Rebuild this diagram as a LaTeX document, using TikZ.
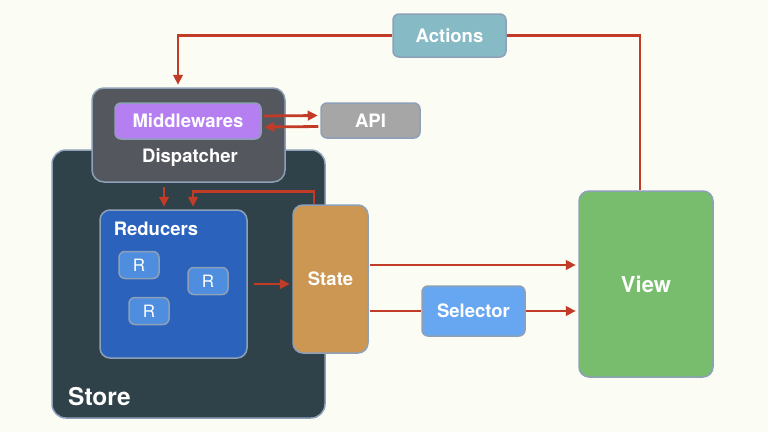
\documentclass[tikz,border=0pt]{standalone}
\usepackage{fontspec}
\setmainfont{TeX Gyre Heros}
\usetikzlibrary{arrows.meta}
\definecolor{bgcol}{HTML}{FBFCF3}
\definecolor{edgecol}{HTML}{8EA0B8}
\definecolor{flowcol}{HTML}{C23B26}
\definecolor{actcol}{HTML}{86BAC4}
\definecolor{dispcol}{HTML}{55575E}
\definecolor{midcol}{HTML}{B57FF2}
\definecolor{apicol}{HTML}{A5A6A5}
\definecolor{storecol}{HTML}{2F4149}
\definecolor{redcol}{HTML}{2A62BC}
\definecolor{rcol}{HTML}{4F8EDE}
\definecolor{statecol}{HTML}{CC9753}
\definecolor{selcol}{HTML}{67A7F1}
\definecolor{viewcol}{HTML}{78BC6E}

\begin{document}
\begin{tikzpicture}[
		x=1pt, y=-1pt,
		>={Triangle[length=10pt,width=9.5pt]},
		box/.style={draw=edgecol, line width=1.5pt, rounded corners=6pt, text=white,
			font=\bfseries\fontsize{18.5}{20}\selectfont, inner sep=0pt},
		rbox/.style={box, fill=rcol, minimum width=40pt, minimum height=27pt,
			font=\fontsize{17}{19}\selectfont},
		lbl/.style={text=white, font=\bfseries\fontsize{18.5}{20}\selectfont, inner sep=0pt},
		line/.style={draw=flowcol, line width=2.8pt},
		flow/.style={line, ->, shorten >=2.5pt}
	]

	\fill[bgcol] (0,0) rectangle (768,432);

	% store and dispatcher
	\node[box, fill=storecol, rounded corners=14pt, minimum width=273pt, minimum height=268pt] (store) at (188.5,284) {};
	\node[lbl, anchor=west, font=\bfseries\fontsize{24.5}{26}\selectfont] (storelbl) at (68,397) {Store};
	\node[box, fill=dispcol, rounded corners=12pt, minimum width=193pt, minimum height=94pt] (dispatcher) at (188.5,135) {};
	\node[box, fill=midcol, minimum width=146pt, minimum height=36pt] (middle) at (188,121) {Middlewares};
	\node[lbl] (displbl) at (190,158) {Dispatcher};
	\node[box, fill=apicol, minimum width=99pt, minimum height=35pt] (api) at (370.5,120.5) {API};
	\node[box, fill=actcol, minimum width=113pt, minimum height=43pt] (actions) at (449.5,35.5) {Actions};

	% reducers
	\node[box, fill=redcol, rounded corners=10pt, minimum width=147pt, minimum height=148pt] (reducers) at (173.5,284) {};
	\node[lbl] (redlbl) at (156,229) {Reducers};
	\node[rbox] (r1) at (139,265) {R};
	\node[rbox] (r2) at (208,281) {R};
	\node[rbox] (r3) at (149,311) {R};

	\node[box, fill=statecol, rounded corners=10pt, minimum width=75pt, minimum height=148pt] (state) at (330.5,279) {State};
	\node[box, fill=selcol, minimum width=103pt, minimum height=50pt] (selector) at (473.5,311) {Selector};
	\node[box, fill=viewcol, rounded corners=10pt, minimum width=134pt, minimum height=186pt,
		font=\bfseries\fontsize{22}{24}\selectfont] (view) at (646,284) {View};

	% connectors
	\draw[line] ([xshift=-6pt]view.north) |- (actions.east);
	\draw[flow] (actions.west) -| ([xshift=-10.5pt]dispatcher.north);
	\draw[flow, shorten <=2pt] ([yshift=5pt]middle.east) -- ([yshift=5pt]api.west);
	\draw[flow, shorten <=2pt] ([yshift=-6pt]api.west) -- ([yshift=-6pt]middle.east);
	\draw[flow, shorten <=4pt] ([xshift=-24.5pt]dispatcher.south) -- ([xshift=-9.5pt]reducers.north);
	\draw[flow] ([xshift=-16.5pt]state.north) -- ++(0,-13) -| ([xshift=19.5pt]reducers.north);
	\draw[flow, shorten <=6pt] (reducers.east) -- (reducers.east -| state.west);
	\coordinate (s1) at ([yshift=14pt]state.east);
	\draw[flow, shorten <=1.5pt] (s1) -- (s1 -| view.west);
	\draw[line, shorten <=1.5pt] (selector.west -| state.east) -- (selector.west);
	\draw[flow] (selector.east) -- (selector.east -| view.west);
\end{tikzpicture}
\end{document}
